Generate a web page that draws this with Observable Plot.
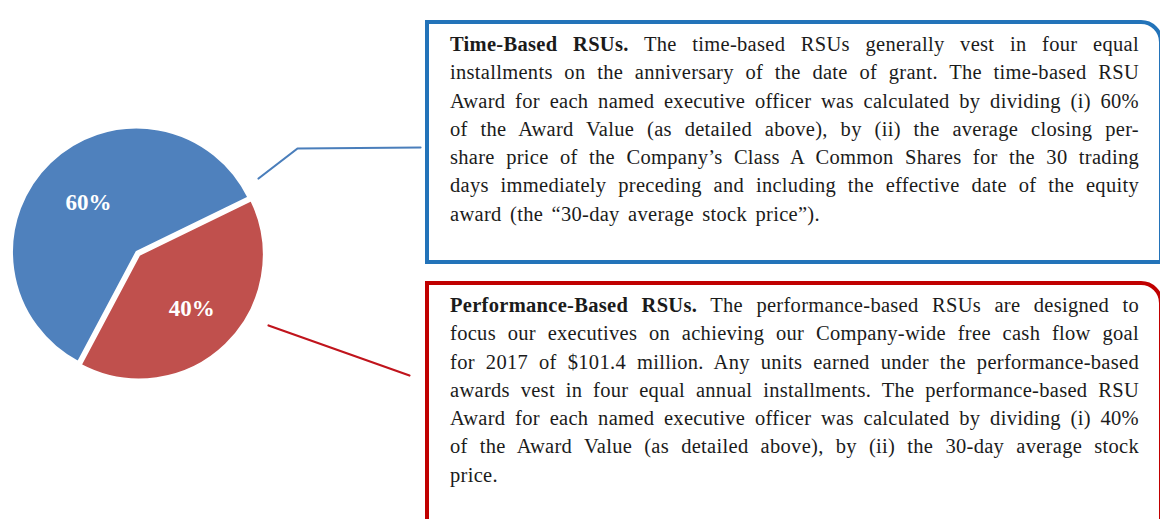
<!DOCTYPE html>
<html><head><meta charset="utf-8">
<script src="https://cdn.jsdelivr.net/npm/d3@7"></script>
<script src="https://cdn.jsdelivr.net/npm/@observablehq/plot@0.6"></script>
<style>
html,body{margin:0;padding:0;background:#fff;}
#page{position:relative;width:1160px;height:519px;overflow:hidden;background:#fff;}
#chart{position:absolute;left:0;top:0;}
.box{position:absolute;left:425px;width:738px;box-sizing:border-box;border:4px solid;border-top-right-radius:22px;}
.txt{position:absolute;left:450px;width:689px;font-family:"Liberation Serif","Times New Roman",serif;font-size:20.5px;letter-spacing:0.3px;word-spacing:3px;line-height:28.3px;color:#1b1b1b;}
.ln{white-space:nowrap;height:28.3px;}
.ln b{font-weight:bold;}
</style></head>
<body><div id="page"><div id="chart"></div></div>
<script>
// ---- data ----
const categories = ["Time-Based RSUs", "Performance-Based RSUs"];
const shares = [60, 40];
const sliceColors = ["#4F81BD", "#C0504D"];
const boxColors = ["#2373B9", "#C00000"];
const leaderColors = ["#4A7EBB", "#C0141C"];
const timeBasedLead = "Time-Based RSUs.";
const timeBasedLines = [
  " The time-based RSUs generally vest in four equal",
  "installments on the anniversary of the date of grant. The time-based RSU",
  "Award for each named executive officer was calculated by dividing (i) 60%",
  "of the Award Value (as detailed above), by (ii) the average closing per-",
  "share price of the Company\u2019s Class A Common Shares for the 30 trading",
  "days immediately preceding and including the effective date of the equity",
  "award (the \u201c30-day average stock price\u201d)."
];
const performanceLead = "Performance-Based RSUs.";
const performanceLines = [
  " The performance-based RSUs are designed to",
  "focus our executives on achieving our Company-wide free cash flow goal",
  "for 2017 of $101.4 million. Any units earned under the performance-based",
  "awards vest in four equal annual installments. The performance-based RSU",
  "Award for each named executive officer was calculated by dividing (i) 40%",
  "of the Award Value (as detailed above), by (ii) the 30-day average stock",
  "price."
];

// ---- layout constants ----
const W = 1160, H = 519;
const pieCX = 136.5, pieCY = 252, pieR = 124.5;
const pieStartDeg = 208;
const explode = [0, 4];
const labelFrac = [0.56, 0.6];
const leaders = [
  [[258, 178], [297, 148], [420, 147]],
  [[268, 325], [409, 375]]
];

const arcs = d3.pie().value(d => d).sort(null)
  .startAngle(pieStartDeg * Math.PI / 180)
  .endAngle(pieStartDeg * Math.PI / 180 + 2 * Math.PI)(shares);

function pieMark(...args) {
  const scales = args.find(a => a && !Array.isArray(a) && typeof a.x === "function");
  const cx = scales.x(pieCX), cy = scales.y(pieCY);
  const r = scales.x(pieCX + pieR) - cx;
  const arc = d3.arc().innerRadius(0).outerRadius(r);
  const g = d3.create("svg:g");
  g.selectAll("path").data(arcs).join("path")
    .attr("d", arc)
    .attr("fill", (d, i) => sliceColors[i])
    .attr("stroke", "#ffffff").attr("stroke-width", 2).attr("stroke-linejoin", "round")
    .attr("transform", (d, i) => {
      const m = (d.startAngle + d.endAngle) / 2, e = explode[i];
      return `translate(${cx + e * Math.sin(m)},${cy - e * Math.cos(m)})`;
    });
  return g.node();
}

const labelPos = arcs.map((d, i) => {
  const m = (d.startAngle + d.endAngle) / 2;
  const rr = pieR * labelFrac[i] + explode[i];
  return {x: pieCX + rr * Math.sin(m), y: pieCY - rr * Math.cos(m), text: shares[i] + "%"};
});

const leaderData = leaders.flatMap((pts, i) => pts.map(p => ({x: p[0], y: p[1], k: categories[i]})));

const chart = Plot.plot({
  width: W, height: H, margin: 0,
  x: {domain: [0, W], range: [0, W], axis: null},
  y: {domain: [0, H], range: [0, H], axis: null},
  color: {domain: categories, range: leaderColors},
  style: {background: "transparent"},
  marks: [
    pieMark,
    Plot.text(labelPos, {x: "x", y: "y", text: "text", fill: "#ffffff", fontSize: 23, fontWeight: "bold",
      fontFamily: "Liberation Serif, Times New Roman, serif", textAnchor: "middle", lineAnchor: "middle"}),
    Plot.line(leaderData, {x: "x", y: "y", z: "k", stroke: "k", strokeWidth: 2.2})
  ]
});
document.getElementById("chart").appendChild(chart);

// ---- callout boxes (HTML text) ----
const page = document.getElementById("page");
function addBox(top, height, color) {
  const b = document.createElement("div");
  b.className = "box";
  b.style.top = top + "px"; b.style.height = height + "px"; b.style.borderColor = color;
  page.appendChild(b);
}
function addText(top, lead, lines) {
  const t = document.createElement("div");
  t.className = "txt"; t.style.top = top + "px";
  lines.forEach((line, i) => {
    const ln = document.createElement("div");
    ln.className = "ln" + (i < lines.length - 1 ? " j" : "");
    const sp = document.createElement("span");
    if (i === 0) { const b = document.createElement("b"); b.textContent = lead; sp.appendChild(b); }
    sp.appendChild(document.createTextNode(line));
    ln.appendChild(sp); t.appendChild(ln);
  });
  page.appendChild(t);
}
addBox(20, 244, boxColors[0]);
addBox(281, 260, boxColors[1]);
addText(30, timeBasedLead, timeBasedLines);
addText(291, performanceLead, performanceLines);

document.querySelectorAll(".ln.j").forEach(el => {
  el.style.wordSpacing = "0px";
  const sp = el.firstChild;
  const w = sp.getBoundingClientRect().width;
  const n = (el.textContent.match(/ /g) || []).length;
  if (n > 0) el.style.wordSpacing = ((689 - w) / n) + "px";
});
</script>
</body></html>
